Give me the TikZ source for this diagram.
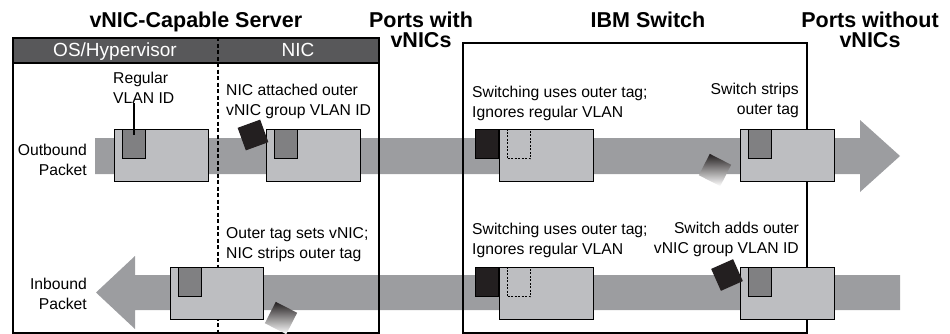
\documentclass[tikz,border=0pt]{standalone}
\usepackage{fontspec}
\setmainfont{Liberation Sans}
\usetikzlibrary{calc,positioning}

\definecolor{bandgrey}{RGB}{156,157,160}
\definecolor{pktgrey}{RGB}{189,190,193}
\definecolor{taggrey}{RGB}{128,128,130}
\definecolor{headgrey}{RGB}{88,88,90}
\definecolor{tagblack}{RGB}{35,31,32}

\tikzset{
  boxframe/.style={draw, line width=1.7pt, inner sep=0pt, anchor=north west},
  pkt/.style={draw, line width=1.2pt, fill=pktgrey, minimum width=94pt, minimum height=52pt, inner sep=0pt, anchor=north west},
  vlan/.style={draw, line width=1.2pt, fill=taggrey, minimum width=23pt, minimum height=29pt, inner sep=0pt, anchor=north west},
  outertag/.style={vlan, fill=tagblack},
  ghosttag/.style={vlan, fill=none, dash pattern=on 2pt off 1.5pt, line width=1.1pt},
  loosetag/.style={fill=tagblack, minimum size=24pt, inner sep=0pt},
  fadetag/.style={top color=tagblack, bottom color=white, minimum size=24pt, inner sep=0pt},
  lbl/.style={font=\fontsize{15.7}{19.5}\selectfont, inner sep=0pt},
  hdrtxt/.style={font=\fontsize{19}{20}\selectfont, text=white, inner sep=0pt, anchor=base},
  ttl/.style={font=\bfseries\fontsize{21.5}{20}\selectfont, inner sep=0pt, align=center, anchor=base},
}

\begin{document}
\begin{tikzpicture}[x=1pt, y=-1pt]
  \useasboundingbox (0,0) rectangle (950,333);
  \fill[bandgrey] (95,138) -- (860,138) -- (860,120) -- (900,156) -- (860,192) -- (860,174) -- (95,174) -- cycle;
  \fill[bandgrey] (900,275) -- (135,275) -- (135,256) -- (96,292.5) -- (135,329) -- (135,310) -- (900,310) -- cycle;

  \node[boxframe, fill=headgrey, minimum width=366pt, minimum height=25pt] (hdr) at (12,37) {};
  \node[boxframe, minimum width=366pt, minimum height=295pt] (server) at (12,37) {};
  \node[boxframe, minimum width=344pt, minimum height=290pt] (switch) at (462,42) {};
  \coordinate (split) at (218,37);
  \draw[line width=1.7pt, dash pattern=on 4pt off 2.5pt] (split) -- (split |- server.south);

  \node[hdrtxt] (ostxt) at (115,56) {OS/Hypervisor};
  \node[hdrtxt] (nictxt) at (298,56) {NIC};

  \node[ttl] (srvttl) at (server.north |- 0,27) {vNIC-Capable Server};
  \node[ttl] (vports) at (421,47) {Ports with\\vNICs};
  \node[ttl] (swttl) at (648,27) {IBM Switch};
  \node[ttl] (pports) at (870,47) {Ports without\\vNICs};

  \node[pkt] (op1) at (114,129) {};
  \node[pkt] (op2) at (266,129) {};
  \node[pkt] (op3) at (499,129) {};
  \node[pkt] (op4) at (740,129) {};
  \node[pkt, minimum width=93pt] (ip1) at (170,267) {};
  \node[pkt] (ip2) at (499,267) {};
  \node[pkt] (ip3) at (740,267) {};

  \node[vlan] (ot1) at ($(op1.north west)+(8,0)$) {};
  \node[vlan] (ot2) at ($(op2.north west)+(8,0)$) {};
  \node[outertag, anchor=north east] (ox3) at (op3.north west) {};
  \node[ghosttag] (og3) at ($(op3.north west)+(8,0)$) {};
  \node[vlan] (ot4) at ($(op4.north west)+(8,0)$) {};
  \node[vlan] (it1) at ($(ip1.north west)+(8,0)$) {};
  \node[outertag, anchor=north east] (ix2) at (ip2.north west) {};
  \node[ghosttag] (ig2) at ($(ip2.north west)+(8,0)$) {};
  \node[vlan] (it3) at ($(ip3.north west)+(8,0)$) {};

  \node[loosetag, rotate=20] (oadd) at (253,135) {};
  \node[fadetag, rotate=-27] (ostrip) at (715,170) {};
  \node[loosetag, rotate=24] (iadd) at (727,275) {};
  \node[fadetag, rotate=-27] (istrip) at (281,318) {};

  \node[lbl, anchor=base west, align=left] (reglbl) at (113,103) {Regular\\VLAN ID};
  \node[lbl, anchor=base west, align=left] (nicadd) at (226,115) {NIC attached outer\\vNIC group VLAN ID};
  \node[lbl, anchor=base east, align=right] (outlbl) at (87,175) {Outbound\\Packet};
  \node[lbl, anchor=base east, align=right] (inlbl) at (87,309) {Inbound\\Packet};
  \node[lbl, anchor=base west, align=left] (nicstrip) at (226,258) {Outer tag sets vNIC;\\NIC strips outer tag};
  \node[lbl, anchor=base west, align=left] (swout) at (472,117) {Switching uses outer tag;\\Ignores regular VLAN};
  \node[lbl, anchor=base west, align=left] (swin) at (472,254) {Switching uses outer tag;\\Ignores regular VLAN};
  \node[lbl, anchor=base east, align=right] (swstrip) at (799,114) {Switch strips\\outer tag};
  \node[lbl, anchor=base east, align=right] (swadd) at (799,253) {Switch adds outer\\vNIC group VLAN ID};

  \coordinate (regtip) at ($(ot1.north)+(0,6)$);
  \draw[line width=1.6pt] (reglbl.south -| ot1.north) -- (regtip);
\end{tikzpicture}
\end{document}
